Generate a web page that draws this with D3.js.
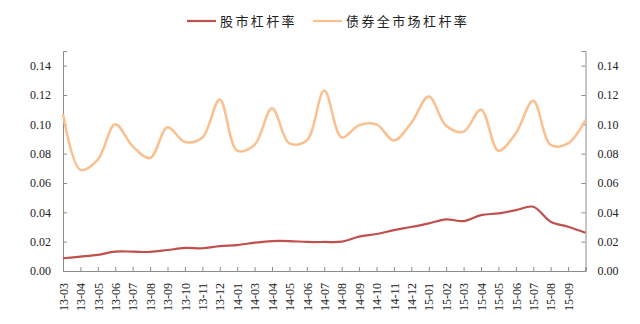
<!DOCTYPE html>
<html>
<head>
<meta charset="utf-8">
<script src="https://cdn.jsdelivr.net/npm/d3@7"></script>
<style>
  html, body { margin: 0; padding: 0; background: #fff; }
  svg { display: block; }
</style>
</head>
<body>
<svg id="chart" width="640" height="324"></svg>
<script>
// Month labels along the category axis (the final slot carries no label)
const categories = [
  "13-03","13-04","13-05","13-06","13-07","13-08","13-09","13-10","13-11","13-12",
  "14-01","14-03","14-04","14-05","14-06","14-07","14-08","14-09","14-10","14-11","14-12",
  "15-01","15-02","15-03","15-04","15-05","15-06","15-07","15-08","15-09",""
];

// 股市杠杆率
const stockLeverage = [
  0.0087, 0.0098, 0.0110, 0.0132, 0.0132, 0.0130, 0.0143, 0.0157, 0.0155, 0.0170,
  0.0177, 0.0193, 0.0204, 0.0204, 0.0198, 0.0198, 0.0200, 0.0234, 0.0252, 0.0279, 0.0300,
  0.0325, 0.0352, 0.0340, 0.0381, 0.0393, 0.0415, 0.0438, 0.0336, 0.0302, 0.0261
];

// 债券全市场杠杆率
const bondLeverage = [
  0.107, 0.069, 0.076, 0.100, 0.085, 0.077, 0.098, 0.088, 0.091, 0.117,
  0.082, 0.086, 0.111, 0.087, 0.089, 0.123, 0.091, 0.0995, 0.100, 0.089, 0.101,
  0.119, 0.099, 0.095, 0.110, 0.082, 0.094, 0.116, 0.086, 0.087, 0.103
];

const yTicks = [0, 0.02, 0.04, 0.06, 0.08, 0.10, 0.12, 0.14];

const seriesNames = ["股市杠杆率", "债券全市场杠杆率"];
const seriesColors = ["#C0504D", "#FAC090"];

const svg = d3.select("#chart");
const plot = { left: 63, right: 585.5, bottom: 271 };

const x = d3.scalePoint()
  .domain(d3.range(categories.length))
  .range([plot.left, plot.right]);

const y = d3.scaleLinear()
  .domain([0, 0.15])
  .range([plot.bottom, plot.bottom - 220]);

const axisColor = "#8C8C8C";
const tickFont = "'Liberation Serif', 'Times New Roman', serif";

// Left value axis
const yLeft = svg.append("g")
  .attr("transform", `translate(${plot.left},0)`)
  .call(d3.axisRight(y).tickValues(yTicks).tickSize(4).tickFormat(d3.format(".2f")));
yLeft.select(".domain").attr("stroke", axisColor);
yLeft.selectAll(".tick line").attr("stroke", axisColor);
yLeft.selectAll(".tick text")
  .attr("x", -12).attr("text-anchor", "end")
  .attr("font-family", tickFont).attr("font-size", 12).attr("fill", "#222");

// Right value axis
const yRight = svg.append("g")
  .attr("transform", `translate(${plot.right},0)`)
  .call(d3.axisLeft(y).tickValues(yTicks).tickSize(4).tickFormat(d3.format(".2f")));
yRight.select(".domain").attr("stroke", axisColor);
yRight.selectAll(".tick line").attr("stroke", axisColor);
yRight.selectAll(".tick text")
  .attr("x", 12).attr("text-anchor", "start")
  .attr("font-family", tickFont).attr("font-size", 12).attr("fill", "#222");

// Category axis
const xAxis = svg.append("g")
  .attr("transform", `translate(0,${plot.bottom})`)
  .call(d3.axisTop(x).tickSize(4).tickFormat(i => categories[i]));
xAxis.select(".domain").attr("stroke", axisColor);
xAxis.selectAll(".tick line").attr("stroke", axisColor);
xAxis.selectAll(".tick text")
  .attr("transform", "rotate(-90)")
  .attr("x", -12).attr("y", 0).attr("dy", "0.35em")
  .attr("text-anchor", "end")
  .attr("font-family", tickFont).attr("font-size", 12).attr("fill", "#222");

// Series lines
const line = d3.line()
  .x((d, i) => x(i))
  .y(d => y(d))
  .curve(d3.curveCatmullRom.alpha(0.5));

svg.append("path")
  .datum(bondLeverage)
  .attr("fill", "none")
  .attr("stroke", seriesColors[1])
  .attr("stroke-width", 2.5)
  .attr("d", line);

svg.append("path")
  .datum(stockLeverage)
  .attr("fill", "none")
  .attr("stroke", seriesColors[0])
  .attr("stroke-width", 2.2)
  .attr("d", line);

// Legend
const legendItems = [
  { x: 187, name: seriesNames[0], color: seriesColors[0] },
  { x: 313, name: seriesNames[1], color: seriesColors[1] }
];
const legend = svg.append("g").attr("transform", "translate(0,21)");
legendItems.forEach(item => {
  legend.append("line")
    .attr("x1", item.x).attr("x2", item.x + 29)
    .attr("y1", 0).attr("y2", 0)
    .attr("stroke", item.color).attr("stroke-width", 2.2);
  legend.append("text")
    .attr("x", item.x + 33).attr("y", 0).attr("dy", "0.38em")
    .attr("font-family", "'Noto Sans CJK SC', sans-serif")
    .attr("font-size", 13)
    .attr("letter-spacing", 2.4)
    .attr("fill", "#222")
    .text(item.name);
});
</script>
</body>
</html>
